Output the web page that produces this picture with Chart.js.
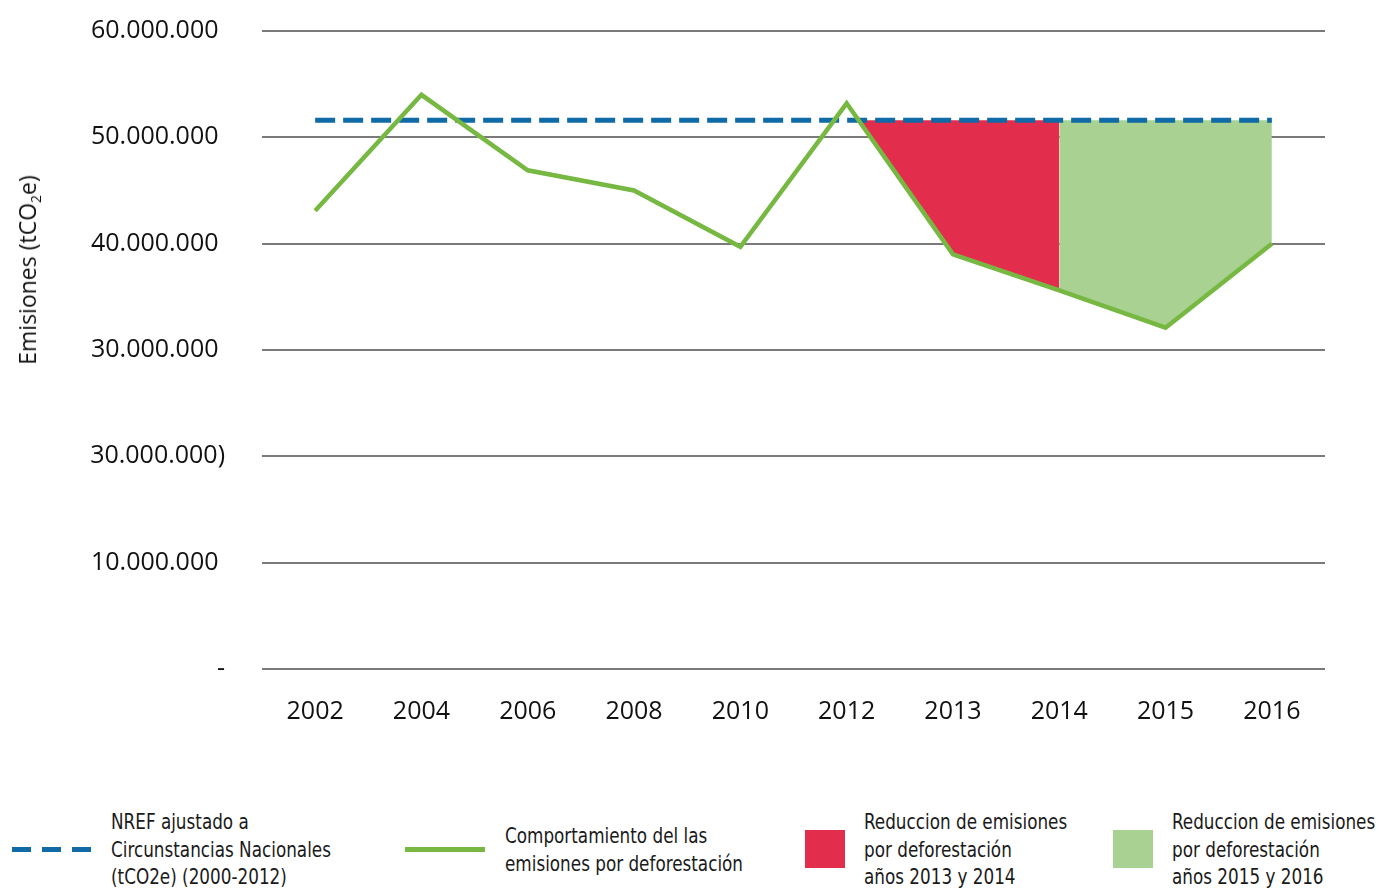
<!DOCTYPE html>
<html lang="es">
<head>
<meta charset="utf-8">
<script src="https://cdn.jsdelivr.net/npm/chart.js@4.4.1/dist/chart.umd.min.js"></script>
<style>
  html, body { margin: 0; padding: 0; background: #fff; }
  body { width: 1379px; height: 890px; overflow: hidden; position: relative; font-family: "Open Sans", sans-serif; color: #111; }
  #chartBox { position: absolute; left: 0; top: 0; width: 1379px; height: 760px; }
  #yTitle { position: absolute; left: 27px; top: 270px; transform: translate(-50%, -50%) rotate(-90deg); white-space: nowrap; font-size: 23px; }
  #yTitle sub { font-size: 14px; vertical-align: -5px; line-height: 0; }
  .legend { position: absolute; font-family: "DejaVu Sans Condensed", "Liberation Sans Narrow", sans-serif; font-size: 21px; line-height: 27.5px; color: #1a1a1a; white-space: nowrap; transform: scaleX(0.89); transform-origin: 0 0; }
  .icon { position: absolute; }
</style>
</head>
<body>
<div id="chartBox"><canvas id="chart"></canvas></div>
<div id="yTitle">Emisiones (tCO<sub>2</sub>e)</div>

<!-- legend -->
<div class="icon" style="left:12px;top:847px;width:19px;height:5px;background:#0f6aa6"></div>
<div class="icon" style="left:42px;top:847px;width:19px;height:5px;background:#0f6aa6"></div>
<div class="icon" style="left:72px;top:847px;width:19px;height:5px;background:#0f6aa6"></div>
<div class="legend" style="left:111px;top:809px">NREF ajustado a<br>Circunstancias Nacionales<br>(tCO2e) (2000-2012)</div>

<div class="icon" style="left:405px;top:847px;width:80px;height:5px;background:#77b843"></div>
<div class="legend" style="left:505px;top:823px">Comportamiento del las<br>emisiones por deforestación</div>

<div class="icon" style="left:805px;top:830px;width:40px;height:38px;background:#e32d4c"></div>
<div class="legend" style="left:864px;top:809px">Reduccion de emisiones<br>por deforestación<br>años 2013 y 2014</div>

<div class="icon" style="left:1113px;top:830px;width:40px;height:38px;background:#a9d292"></div>
<div class="legend" style="left:1172px;top:809px">Reduccion de emisiones<br>por deforestación<br>años 2015 y 2016</div>

<script>
const years = ["2002", "2004", "2006", "2008", "2010", "2012", "2013", "2014", "2015", "2016"];
const emissions = [43100000, 54000000, 46900000, 45000000, 39700000, 53200000, 39000000, 35600000, 32100000, 40000000];
const nref = [51600000, 51600000, 51600000, 51600000, 51600000, 51600000, 51600000, 51600000, 51600000, 51600000];
const yTickLabels = ["-", "10.000.000", "30.000.000)", "30.000.000", "40.000.000", "50.000.000", "60.000.000"];
const reduction1314 = [6, 7]; // indexes of years 2013, 2014
const reduction1516 = [7, 8, 9]; // 2014 -> 2016

// where the emissions line drops below the NREF after 2012
const crossX = 5 + (emissions[5] - nref[5]) / (emissions[5] - emissions[6]);

const linePts = emissions.map((v, i) => ({ x: i, y: v }));
const nrefPts = nref.map((v, i) => ({ x: i, y: v }));

const redTop = [{ x: crossX, y: nref[5] }].concat(reduction1314.map(i => ({ x: i, y: nref[i] })));
const redBottom = [{ x: crossX, y: nref[5] }].concat(reduction1314.map(i => ({ x: i, y: emissions[i] })));
const greenTop = reduction1516.map(i => ({ x: i, y: nref[i] }));
const greenBottom = reduction1516.map(i => ({ x: i, y: emissions[i] }));

const tickFont = { family: "'Open Sans', sans-serif", size: 25 };

new Chart(document.getElementById("chart"), {
  type: "line",
  data: {
    datasets: [
      {
        data: linePts,
        borderColor: "#77b843",
        borderWidth: 4.5,
        borderJoinStyle: "miter",
        pointRadius: 0,
        fill: false,
      },
      {
        data: nrefPts,
        borderColor: "#0f6aa6",
        borderWidth: 5,
        borderDash: [20, 8],
        pointRadius: 0,
        fill: false,
      },
      {
        data: redTop,
        borderWidth: 0,
        pointRadius: 0,
        backgroundColor: "#e32d4c",
        fill: "+1",
      },
      {
        data: redBottom,
        borderWidth: 0,
        pointRadius: 0,
        fill: false,
      },
      {
        data: greenTop,
        borderWidth: 0,
        pointRadius: 0,
        backgroundColor: "#a9d292",
        fill: "+1",
      },
      {
        data: greenBottom,
        borderWidth: 0,
        pointRadius: 0,
        fill: false,
      },
    ],
  },
  options: {
    responsive: true,
    maintainAspectRatio: false,
    animation: false,
    layout: { padding: { top: 31, right: 54, left: 0, bottom: 0 } },
    plugins: {
      legend: { display: false },
      tooltip: { enabled: false },
    },
    scales: {
      x: {
        type: "linear",
        min: -0.5,
        max: 9.5,
        afterBuildTicks: (scale) => {
          scale.ticks = years.map((_, i) => ({ value: i }));
        },
        afterFit: (scale) => { scale.height = 91; },
        ticks: {
          autoSkip: false,
          maxRotation: 0,
          padding: 28,
          color: "#111",
          font: tickFont,
          callback: (value) => years[value],
        },
        grid: { display: false, drawTicks: false },
        border: { display: false },
      },
      y: {
        min: 0,
        max: 60000000,
        afterFit: (scale) => {
          scale.width = 262;
          scale.paddingTop = 0;
          scale.paddingBottom = 0;
        },
        ticks: {
          stepSize: 10000000,
          padding: 37,
          color: "#111",
          font: tickFont,
          // accounting style: leave room for the ")" of negative numbers
          callback: (value, index) => {
            const t = yTickLabels[index];
            return t === "-" || t.endsWith(")") ? t : t + " ";
          },
        },
        grid: { color: "#7a7a7a", lineWidth: 2, drawTicks: false },
        border: { display: false },
      },
    },
  },
});
</script>
</body>
</html>
